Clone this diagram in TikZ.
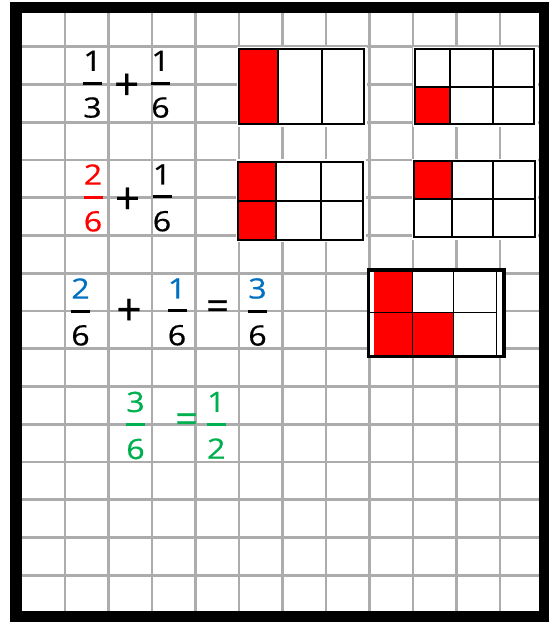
\documentclass[tikz,border=0pt]{standalone}
\usepackage{fontspec}
\setmainfont{Open Sans}
\newfontfamily\fracfont{Open Sans}[FakeBold=0.5]
\usepackage{xcolor}
\usepackage{graphicx}
\usepackage{tikz}
\usetikzlibrary{positioning,calc}

\definecolor{fracred}{RGB}{255,0,0}
\definecolor{fracblue}{RGB}{0,112,192}
\definecolor{fracgreen}{RGB}{0,176,80}
\definecolor{gridgray}{RGB}{172,172,172}

% stacked fraction: numerator colour, colour of bar and denominator, numerator, denominator
\newcommand{\fr}[4]{\vbox{\color{#2}\offinterlineskip
  \hbox to 19pt{\hss\textcolor{#1}{\scalebox{1.15}[1]{#3}}\hss}\kern11pt
  \hrule height 3pt width 19pt\kern12.5pt
  \hbox to 19pt{\hss\scalebox{1.15}[1]{#4}\hss}}}

\begin{document}
\begin{tikzpicture}[x=1pt, y=-1pt,
  gridline/.style={draw=gridgray, line width=2.6pt},
  patch/.style={fill=white},
  shade/.style={fill=fracred},
  cellline/.style={draw=black, line width=1.8pt},
  frac/.style={inner sep=0pt, font=\fracfont\fontsize{28}{32}\selectfont},
  sign/.style={inner sep=0pt, font=\fracfont\fontsize{44}{48}\selectfont},
  equal/.style={inner sep=0pt, font=\fracfont\fontsize{40}{44}\selectfont}
]
  \useasboundingbox (0,0) rectangle (549,622);

  % frame and squared paper
  \fill[black] (10,1.7) rectangle (549,622);
  \fill[white] (21.7,13.3) rectangle (539.3,611);
  \foreach \i in {0,...,10}
    \draw[gridline] ({64.8+43.5*\i},13.3) -- ({64.8+43.5*\i},611);
  \foreach \j in {0,...,14}
    \draw[gridline] (21.7,{46.7+37.75*\j}) -- (539.3,{46.7+37.75*\j});

  % one third
  \fill[patch] (236.5,46.5) rectangle (367,126.5);
  \fill[shade] (239,49) rectangle (278.3,124);
  \draw[cellline] (239,49) rectangle (364,124)
    (278.3,49) -- (278.3,124) (321.7,49) -- (321.7,124);

  % one sixth
  \fill[patch] (412.5,46.5) rectangle (537.5,126.5);
  \fill[shade] (415,86.7) rectangle (450,124);
  \draw[cellline] (415,49) rectangle (534,124)
    (450,49) -- (450,124) (492.7,49) -- (492.7,124) (415,86.7) -- (534,86.7);

  % two sixths
  \fill[patch] (236,159) rectangle (366,242);
  \fill[shade] (238.3,161.7) rectangle (276,240);
  \draw[cellline] (238.3,161.7) rectangle (363.3,240)
    (276,161.7) -- (276,240) (320.7,161.7) -- (320.7,240) (238.3,201) -- (363.3,201);

  % one sixth again
  \fill[patch] (412,158.5) rectangle (537.5,239.5);
  \fill[shade] (414.3,161) rectangle (452.3,199.3);
  \draw[cellline] (414.3,161) rectangle (535,237.3)
    (452.3,161) -- (452.3,237.3) (493.3,161) -- (493.3,237.3) (414.3,199.3) -- (535,199.3);

  % three sixths
  \fill[white] (368.3,270) rectangle (504,356.7);
  \fill[shade] (374,272) rectangle (412.3,355);
  \fill[shade] (412.3,312.3) rectangle (453.3,355);
  \draw[black, line width=1.2pt] (412.3,272) -- (412.3,355) (453.3,272) -- (453.3,355)
    (370,312.3) -- (496.7,312.3) (496.7,272) -- (496.7,355);
  \draw[black, line width=3.5pt] (368.3,270) rectangle (504,356.7);

  % sums
  \node[frac] (oneThird) at (92.5,84.3) {\fr{black}{black}{1}{3}};
  \node[sign] (plusA) at (126.7,86.7) {+};
  \node[frac] (oneSixthA) at (160.5,84.3) {\fr{black}{black}{1}{6}};

  \node[frac] (twoSixthsA) at (93,198) {\fr{fracred}{fracred}{2}{6}};
  \node[sign] (plusB) at (127.5,200.8) {+};
  \node[frac] (oneSixthB) at (162,198) {\fr{black}{black}{1}{6}};

  \node[frac] (twoSixthsB) at (80.5,312) {\fr{fracblue}{black}{2}{6}};
  \node[sign] (plusC) at (129,312) {+};
  \node[frac] (oneSixthC) at (177,312) {\fr{fracblue}{black}{1}{6}};
  \node[equal] (eqA) at (217.5,310) {=};
  \node[frac] (threeSixthsA) at (257.5,312) {\fr{fracblue}{black}{3}{6}};

  \node[frac] (threeSixthsB) at (135.5,425.5) {\fr{fracgreen}{fracgreen}{3}{6}};
  \node[equal, text=fracgreen] (eqB) at (186.7,423) {=};
  \node[frac] (oneHalf) at (216.3,425.3) {\fr{fracgreen}{fracgreen}{1}{2}};
\end{tikzpicture}
\end{document}
